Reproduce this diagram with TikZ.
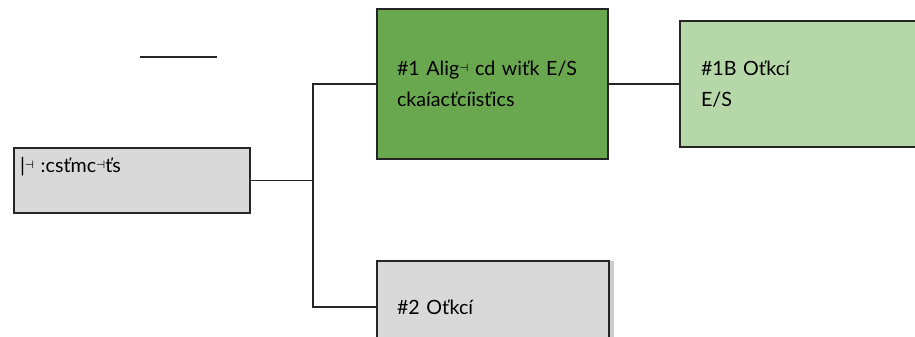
\documentclass[tikz,border=0pt]{standalone}
\usepackage{fontspec}
\setmainfont{Lato}
\newfontfamily\symfont{DejaVu Sans}
\usepackage{tikz}
\usetikzlibrary{positioning}
\newcommand{\gl}{\raisebox{0.35ex}{\symfont\fontsize{6}{6}\selectfont ⊣}}
\definecolor{darkgreen}{RGB}{106,168,79}
\definecolor{lightgreen}{RGB}{182,215,168}
\definecolor{boxgray}{RGB}{217,217,217}
\tikzstyle{box} = [rectangle, draw=black!85, line width=1.1pt, align=left,
font=\fontsize{11.2}{18}\selectfont, inner ysep=0pt]
\tikzstyle{segbox} = [box, fill=boxgray, text width=4.48cm, inner xsep=0.12cm,
minimum height=1.3cm]
\tikzstyle{alignbox} = [box, fill=darkgreen, text width=3.82cm, inner xsep=0.4cm,
minimum height=3cm]
\tikzstyle{otherbox} = [box, fill=lightgreen, text width=4.36cm, inner xsep=0.42cm,
minimum height=2.52cm]
\tikzstyle{graybox} = [box, fill=boxgray, text width=3.84cm, inner xsep=0.4cm,
minimum height=1.84cm]
\tikzstyle{line} = [black!85, line width=0.6pt]

\begin{document}
\begin{tikzpicture}[x=0.02cm, y=-0.02cm]
\useasboundingbox (0,0) rectangle (915,336);

\node (seg) [segbox] at (132,180.5) {\textbar\gl\ :csťmc\gl ťs\\\mbox{}};
\node (align) [alignbox] at (492.5,84) {\raisebox{-4pt}{\mbox{\#1 Alig\gl\ cd wiťk E/S}}\\\raisebox{-4pt}{ckaíacťcíisťics}};
\node (other1b) [otherbox] at (810,84) {\raisebox{-4pt}{\#1B Oťkcí}\\\raisebox{-4pt}{E/S}};
\fill [black!20] (609,261) rectangle (614,353);
\node (other2) [graybox] at (493,307) {\#2 Oťkcí};

\coordinate (fork) at (313,180.5);
\coordinate (rulea) at (140,57);
\coordinate (ruleb) at (217,57);

\draw [line] (seg.east) -- (fork);
\draw [line] (fork) |- (align.west);
\draw [line] (fork) |- (other2.west);
\draw [line] (align.east) -- (other1b.west);
\draw [line] (rulea) -- (ruleb);

\end{tikzpicture}
\end{document}
